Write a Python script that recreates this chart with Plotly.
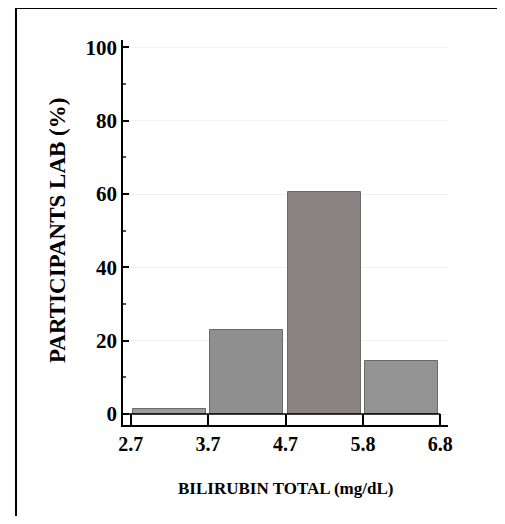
import plotly.graph_objects as go

tick_labels = ["2.7", "3.7", "4.7", "5.8", "6.8"]
bin_centers = [0.5, 1.5, 2.5, 3.5]
percent_values = [1.5, 23.0, 60.5, 14.5]
bar_colors = ["#9c9c9c", "#8f8f8f", "#8a8383", "#939393"]
y_title = "PARTICIPANTS LAB (%)"
x_title = "BILIRUBIN TOTAL (mg/dL)"

FONT = "Liberation Serif"

fig = go.Figure()
fig.add_trace(go.Bar(
    x=bin_centers, y=percent_values, width=0.94,
    marker=dict(color=bar_colors, line=dict(color="#6a6a6a", width=1)),
    showlegend=False, hoverinfo="skip",
))

fig.update_layout(
    width=497, height=508,
    margin=dict(l=115, r=57, t=32, b=91),
    paper_bgcolor="white", plot_bgcolor="white",
    font=dict(family=FONT, color="black"),
    bargap=0,
    xaxis=dict(
        range=[-0.1, 4.1], tickmode="array", tickvals=[0, 1, 2, 3, 4],
        ticktext=tick_labels, ticks="inside", ticklen=11, tickwidth=1.5,
        tickcolor="black", showline=True, linecolor="black", linewidth=1.5,
        showgrid=False, zeroline=False, automargin=False,
        tickfont=dict(family=FONT, size=20, color="black", weight="bold"),
    ),
    yaxis=dict(
        range=[-3, 102], tickmode="array", tickvals=[0, 20, 40, 60, 80, 100],
        ticks="inside", ticklen=6, tickwidth=1.5, tickcolor="black",
        showline=True, linecolor="black", linewidth=1.5, automargin=False,
        showgrid=True, gridcolor="#f2f2f2", gridwidth=1, zeroline=False,
        tickfont=dict(family=FONT, size=21, color="black", weight="bold"),
        minor=dict(tickvals=[10, 30, 50, 70, 90], ticks="inside", ticklen=3,
                   tickcolor="#555555", showgrid=False),
    ),
    shapes=[
        dict(type="line", xref="x", yref="y", x0=-0.1, x1=4, y0=0, y1=0,
             line=dict(color="black", width=1.5)),
        dict(type="rect", xref="paper", yref="paper",
             x0=(16 - 123) / 325, x1=(502 - 123) / 325,
             y0=(425 - 540) / 385, y1=(425 - 8) / 385,
             line=dict(color="black", width=2)),
    ],
    annotations=[
        dict(text="<b>" + y_title + "</b>", xref="paper", yref="paper",
             x=(57 - 123) / 325, y=(425 - 231) / 385, textangle=-90,
             showarrow=False, font=dict(family=FONT, size=23, color="black"),
             xanchor="center", yanchor="middle"),
        dict(text="<b>" + x_title + "</b>", xref="paper", yref="paper",
             x=(285 - 123) / 325, y=(425 - 488) / 385,
             showarrow=False, font=dict(family=FONT, size=17, color="black"),
             xanchor="center", yanchor="middle"),
    ],
)

fig.write_html("out.html")
